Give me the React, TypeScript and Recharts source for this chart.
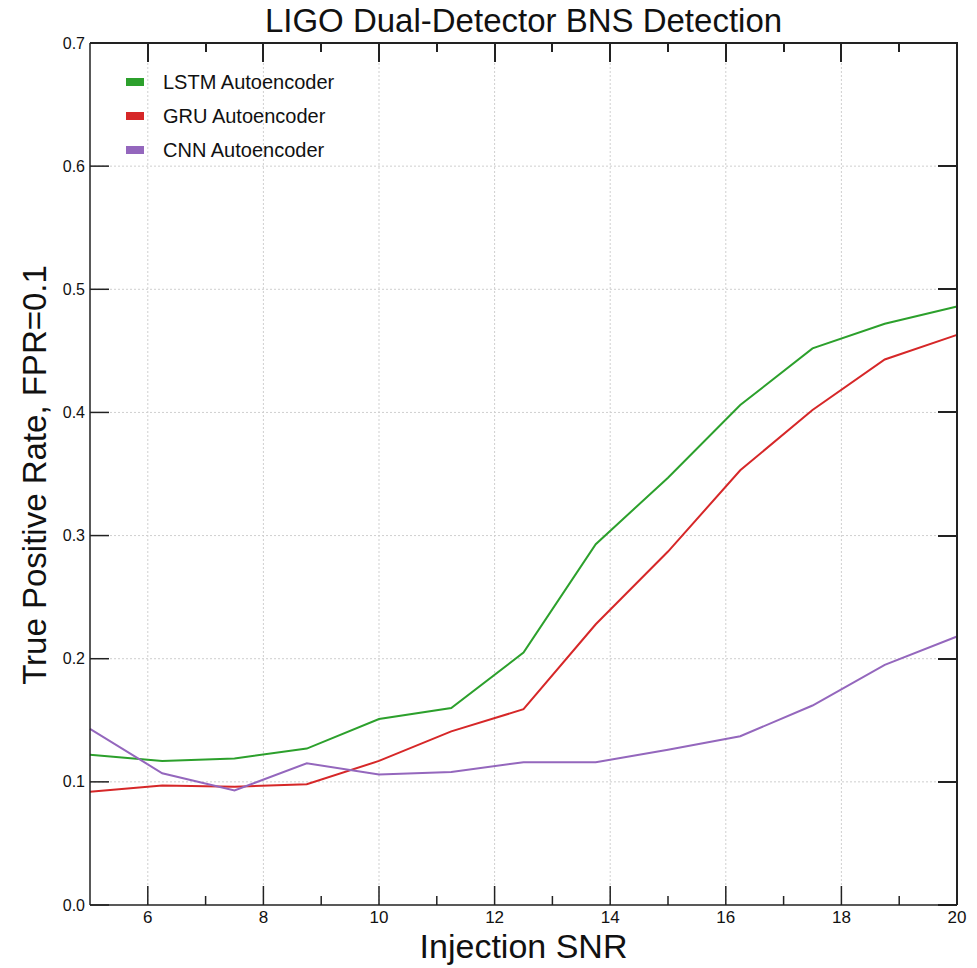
import React from 'react';
import { LineChart, Line, XAxis, YAxis, CartesianGrid, Legend } from 'recharts';

// injection SNR values where each model was evaluated
const snr = [5, 6.25, 7.5, 8.75, 10, 11.25, 12.5, 13.75, 15, 16.25, 17.5, 18.75, 20];

// true positive rate at FPR=0.1
const lstm = [0.122, 0.117, 0.119, 0.127, 0.151, 0.16, 0.205, 0.293, 0.347, 0.406, 0.452, 0.472, 0.486];
const gru = [0.092, 0.097, 0.096, 0.098, 0.117, 0.141, 0.159, 0.228, 0.287, 0.353, 0.402, 0.443, 0.463];
const cnn = [0.143, 0.107, 0.093, 0.115, 0.106, 0.108, 0.116, 0.116, 0.126, 0.137, 0.162, 0.195, 0.218];

const xTicks = [6, 7, 8, 9, 10, 11, 12, 13, 14, 15, 16, 17, 18, 19, 20];
const yTicks = [0, 0.1, 0.2, 0.3, 0.4, 0.5, 0.6, 0.7];
const xGrid = [6, 8, 10, 12, 14, 16, 18];
const yGrid = [0.1, 0.2, 0.3, 0.4, 0.5, 0.6];
const xDomain = [5, 20];
const yDomain = [0, 0.7];

const series = [
  { key: 'lstm', name: 'LSTM Autoencoder', color: '#2ca02c' },
  { key: 'gru', name: 'GRU Autoencoder', color: '#d62728' },
  { key: 'cnn', name: 'CNN Autoencoder', color: '#9467bd' },
];

const data = snr.map((x, i) => ({ snr: x, lstm: lstm[i], gru: gru[i], cnn: cnn[i] }));

const W = 977;
const H = 968;
const M = { top: 43, right: 20, bottom: 0, left: 0 };
const X_AXIS_H = 63;
const Y_AXIS_W = 90;
const PLOT_W = W - M.left - M.right - Y_AXIS_W;
const PLOT_H = H - M.top - M.bottom - X_AXIS_H;
const PLOT_X = M.left + Y_AXIS_W;
const PLOT_Y = M.top;

const INK = '#222';
const SANS = '"Liberation Sans", Arial, sans-serif';

const tickLen = (v: number) => (v % 2 === 0 ? 19 : 9);

// ticks point inward, like the original plotting tool
const BottomTick = ({ x, y, payload }: any) => {
  const major = payload.value % 2 === 0;
  return (
    <g>
      <line x1={x} x2={x} y1={y} y2={y - tickLen(payload.value)} stroke={INK} strokeWidth={1.5} />
      {major && (
        <text x={x} y={y + 18} textAnchor="middle" fontFamily={SANS} fontSize={17} fill="#111">
          {payload.value}
        </text>
      )}
    </g>
  );
};

const LeftTick = ({ x, y, payload }: any) => (
  <g>
    <line x1={x} x2={x + 19} y1={y} y2={y} stroke={INK} strokeWidth={1.5} />
    <text x={x - 5} y={y} dy="0.35em" textAnchor="end" fontFamily={SANS} fontSize={16} fill="#111">
      {payload.value.toFixed(1)}
    </text>
  </g>
);

// top and right sides of the frame with their mirrored inward ticks
const MirrorFrame = () => {
  const sx = (v: number) => PLOT_X + ((v - xDomain[0]) / (xDomain[1] - xDomain[0])) * PLOT_W;
  const sy = (v: number) => PLOT_Y + ((yDomain[1] - v) / (yDomain[1] - yDomain[0])) * PLOT_H;
  const mark = { position: 'absolute' as const, background: INK };
  return (
    <div style={{ position: 'absolute', left: 0, top: 0, width: W, height: H, pointerEvents: 'none', zIndex: 5 }}>
      <div style={{ ...mark, left: PLOT_X, top: PLOT_Y - 1, width: PLOT_W + 1, height: 2 }} />
      <div style={{ ...mark, left: PLOT_X + PLOT_W - 1, top: PLOT_Y - 1, width: 2, height: PLOT_H + 1 }} />
      {xTicks.map((v) => (
        <div key={`t${v}`} style={{ ...mark, left: Math.round(sx(v)) - 1, top: PLOT_Y, width: 2, height: tickLen(v) }} />
      ))}
      {yTicks.map((v) => (
        <div key={`r${v}`} style={{ ...mark, left: PLOT_X + PLOT_W - 19, top: Math.round(sy(v)) - 1, width: 19, height: 2 }} />
      ))}
    </div>
  );
};

const LegendBox = () => (
  <div style={{ fontFamily: SANS, fontSize: 20, color: '#111' }}>
    {series.map((s) => (
      <div key={s.key} style={{ display: 'flex', alignItems: 'center', height: 34 }}>
        <span style={{ display: 'inline-block', width: 18, height: 8, background: s.color, marginRight: 19 }} />
        <span>{s.name}</span>
      </div>
    ))}
  </div>
);

export default function App() {
  return (
    <div style={{ position: 'absolute', top: 0, left: 0, width: W, height: H, background: '#fff' }}>
      <div
        style={{
          position: 'absolute',
          top: 0,
          left: PLOT_X,
          width: PLOT_W,
          textAlign: 'center',
          fontFamily: SANS,
          fontSize: 33,
          lineHeight: '42px',
          color: '#111',
        }}
      >
        LIGO Dual-Detector BNS Detection
      </div>
      <LineChart width={W} height={H} data={data} margin={M}>
        <CartesianGrid
          stroke="#cfcfcf"
          strokeDasharray="2 2"
          verticalValues={xGrid}
          horizontalValues={yGrid}
        />
        <XAxis
          dataKey="snr"
          type="number"
          domain={xDomain}
          ticks={xTicks}
          interval={0}
          height={X_AXIS_H}
          tickSize={0}
          tickMargin={0}
          tickLine={false}
          axisLine={{ stroke: INK, strokeWidth: 1.5 }}
          tick={<BottomTick />}
          label={() => (
            <text x={523.5} y={958} textAnchor="middle" fontFamily={SANS} fontSize={34} fill="#111">
              Injection SNR
            </text>
          )}
        />
        <YAxis
          type="number"
          domain={yDomain}
          ticks={yTicks}
          interval={0}
          width={Y_AXIS_W}
          tickSize={0}
          tickMargin={0}
          tickLine={false}
          axisLine={{ stroke: INK, strokeWidth: 1.5 }}
          tick={<LeftTick />}
          label={() => (
            <text
              x={0}
              y={0}
              transform="translate(46 475) rotate(-90)"
              textAnchor="middle"
              fontFamily={SANS}
              fontSize={33}
              fill="#111"
            >
              True Positive Rate, FPR=0.1
            </text>
          )}
        />
        <Legend
          layout="vertical"
          align="center"
          verticalAlign="middle"
          content={<LegendBox />}
          wrapperStyle={{ top: 65, left: 126, width: 'auto', height: 'auto' }}
        />
        {series.map((s) => (
          <Line
            key={s.key}
            type="linear"
            dataKey={s.key}
            name={s.name}
            stroke={s.color}
            strokeWidth={2}
            dot={false}
            activeDot={false}
            isAnimationActive={false}
          />
        ))}
      </LineChart>
      <MirrorFrame />
    </div>
  );
}
